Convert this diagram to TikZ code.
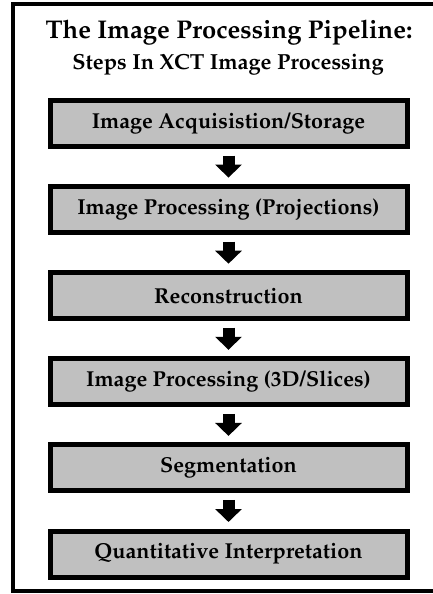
\documentclass[tikz,border=0pt]{standalone}
\usepackage[T1]{fontenc}
\usepackage{mathpazo}
\usetikzlibrary{arrows.meta}
\tikzset{
  stage/.style={draw=black, line width=5pt, fill=stagegray, minimum width=357pt,
    minimum height=46pt, inner sep=0pt, font=\fontsize{21.6}{25}\selectfont\bfseries},
  flow/.style={line width=12pt, -{Triangle[width=26pt,length=13pt]},
    shorten <=6.5pt, shorten >=6.5pt},
}
\definecolor{stagegray}{RGB}{192,192,192}
\begin{document}
\begin{tikzpicture}[x=1pt,y=-1pt]
  \useasboundingbox (0,0) rectangle (433,594);
  \clip (0,0) rectangle (433,594);
  % outer frame (runs past the right edge)
  \draw[line width=4pt] (12.5,4.5) rectangle (460,591);
  % headings
  \node[anchor=base, font=\fontsize{25.6}{30}\selectfont\bfseries] (title) at (229,39) {The Image Processing Pipeline:};
  \node[anchor=base, font=\fontsize{21.8}{25}\selectfont\bfseries] (subtitle) at (228,70) {Steps In XCT Image Processing};
  % pipeline stages
  \node[stage] (s1) at (228.5,123.5) {Image Acquisistion/Storage};
  \node[stage] (s2) at (228.5,209.6) {Image Processing (Projections)};
  \node[stage] (s3) at (228.5,295.7) {Reconstruction};
  \node[stage] (s4) at (228.5,381.8) {Image Processing (3D/Slices)};
  \node[stage] (s5) at (228.5,467.9) {Segmentation};
  \node[stage] (s6) at (228.5,554.0) {Quantitative Interpretation};
  % arrows between stages
  \foreach \a/\b in {s1/s2,s2/s3,s3/s4,s4/s5,s5/s6}
    \draw[flow] (\a.south) -- (\b.north);
\end{tikzpicture}
\end{document}
